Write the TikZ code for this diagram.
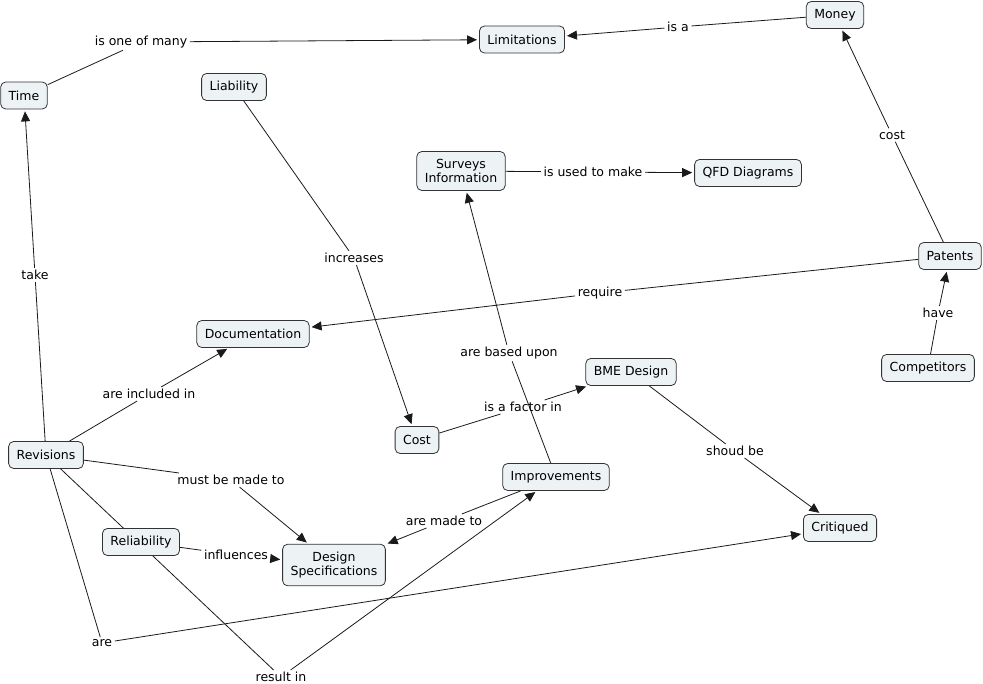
\documentclass[tikz,border=0pt]{standalone}
\usepackage{fontspec}
\setmainfont{DejaVu Sans}
\usetikzlibrary{arrows.meta,backgrounds}
\definecolor{cfill}{HTML}{EDF3F5}
\definecolor{cborder}{HTML}{333333}
\definecolor{lcol}{HTML}{1A1A1A}
\begin{document}
\begin{tikzpicture}[x=1pt,y=-1pt,
  concept/.style={draw=cborder, fill=cfill, rounded corners=5pt, line width=0.8pt,
    font=\fontsize{12.5}{14.5}\selectfont, inner xsep=8pt, inner ysep=7.5pt,
    minimum height=27pt, align=center},
  lbl/.style={font=\fontsize{12.5}{14.5}\selectfont, inner xsep=2.5pt, inner ysep=2pt},
  link/.style={draw=lcol, line width=0.8pt},
  arr/.style={link, -{Triangle[length=10pt,width=9pt]}, shorten >=2pt}]
\useasboundingbox (0,0) rectangle (983,684);
% concepts
\node[concept] (lim)   at (522,39.5) {Limitations};
\node[concept] (money) at (835,15)   {Money};
\node[concept] (time)  at (24,95.5)  {Time};
\node[concept] (liab)  at (234,87)   {Liability};
\node[concept] (surv)  at (461,171)  {Surveys\\Information};
\node[concept] (qfd)   at (748,173)  {QFD Diagrams};
\node[concept] (pat)   at (950,256)  {Patents};
\node[concept] (doc)   at (253,334)  {Documentation};
\node[concept] (comp)  at (928,368)  {Competitors};
\node[concept] (bme)   at (631,372)  {BME Design};
\node[concept] (cost)  at (417,440)  {Cost};
\node[concept] (rev)   at (46,455)   {Revisions};
\node[concept] (impr)  at (556,477)  {Improvements};
\node[concept] (crit)  at (840,528)  {Critiqued};
\node[concept] (rel)   at (141,542)  {Reliability};
\node[concept] (dspec) at (334,565)  {Design\\Specifications};
% linking phrases
\node[lbl] (l1)  at (141,42)  {is one of many};
\node[lbl] (l2)  at (678,27)  {is a};
\node[lbl] (l3)  at (892,135) {cost};
\node[lbl] (l4)  at (593,172) {is used to make};
\node[lbl] (l5)  at (354,258) {increases};
\node[lbl] (l6)  at (35,275)  {take};
\node[lbl] (l7)  at (600,293) {require};
\node[lbl] (l8)  at (938,313) {have};
\node[lbl] (l9)  at (509,353) {are based upon};
\node[lbl] (l10) at (523,407) {is a factor in};
\node[lbl] (l11) at (149,394) {are included in};
\node[lbl] (l12) at (735,451) {shoud be};
\node[lbl] (l13) at (231,480) {must be made to};
\node[lbl] (l14) at (444,521) {are made to};
\node[lbl] (l15) at (236,555) {influences};
\node[lbl] (l16) at (102,643) {are};
\node[lbl] (l17) at (281,677) {result in};
% connectors
\begin{pgfonlayer}{background}
\draw[link] (time) -- (l1);  \draw[arr] (l1) -- (lim);
\draw[link] (money) -- (l2); \draw[arr] (l2) -- (lim);
\draw[link] (pat) -- (l3);   \draw[arr] (l3) -- (money);
\draw[link] (surv) -- (l4);  \draw[arr] (l4) -- (qfd);
\draw[link] (liab) -- (l5);  \draw[arr] (l5) -- (cost);
\draw[link] (rev) -- (l6);   \draw[arr] (l6) -- (time);
\draw[link] (pat) -- (l7);   \draw[arr] (l7) -- (doc);
\draw[link] (comp) -- (l8);  \draw[arr] (l8) -- (pat);
\draw[link] (impr) -- (l9);  \draw[arr] (l9) -- (surv);
\draw[link] (cost) -- (l10); \draw[arr] (l10) -- (bme);
\draw[link] (rev) -- (l11);  \draw[arr] (l11) -- (doc);
\draw[link] (bme) -- (l12);  \draw[arr] (l12) -- (crit);
\draw[link] (rev) -- (l13);  \draw[arr] (l13) -- (dspec);
\draw[link] (impr) -- (l14); \draw[arr] (l14) -- (dspec);
\draw[link] (rel) -- (l15);  \draw[arr] (l15) -- (dspec);
\draw[link] (rev) -- (l16);  \draw[arr] (l16) -- (crit);
\draw[link] (rev) -- (l17);  \draw[arr] (l17) -- (impr);
\end{pgfonlayer}
\end{tikzpicture}
\end{document}
